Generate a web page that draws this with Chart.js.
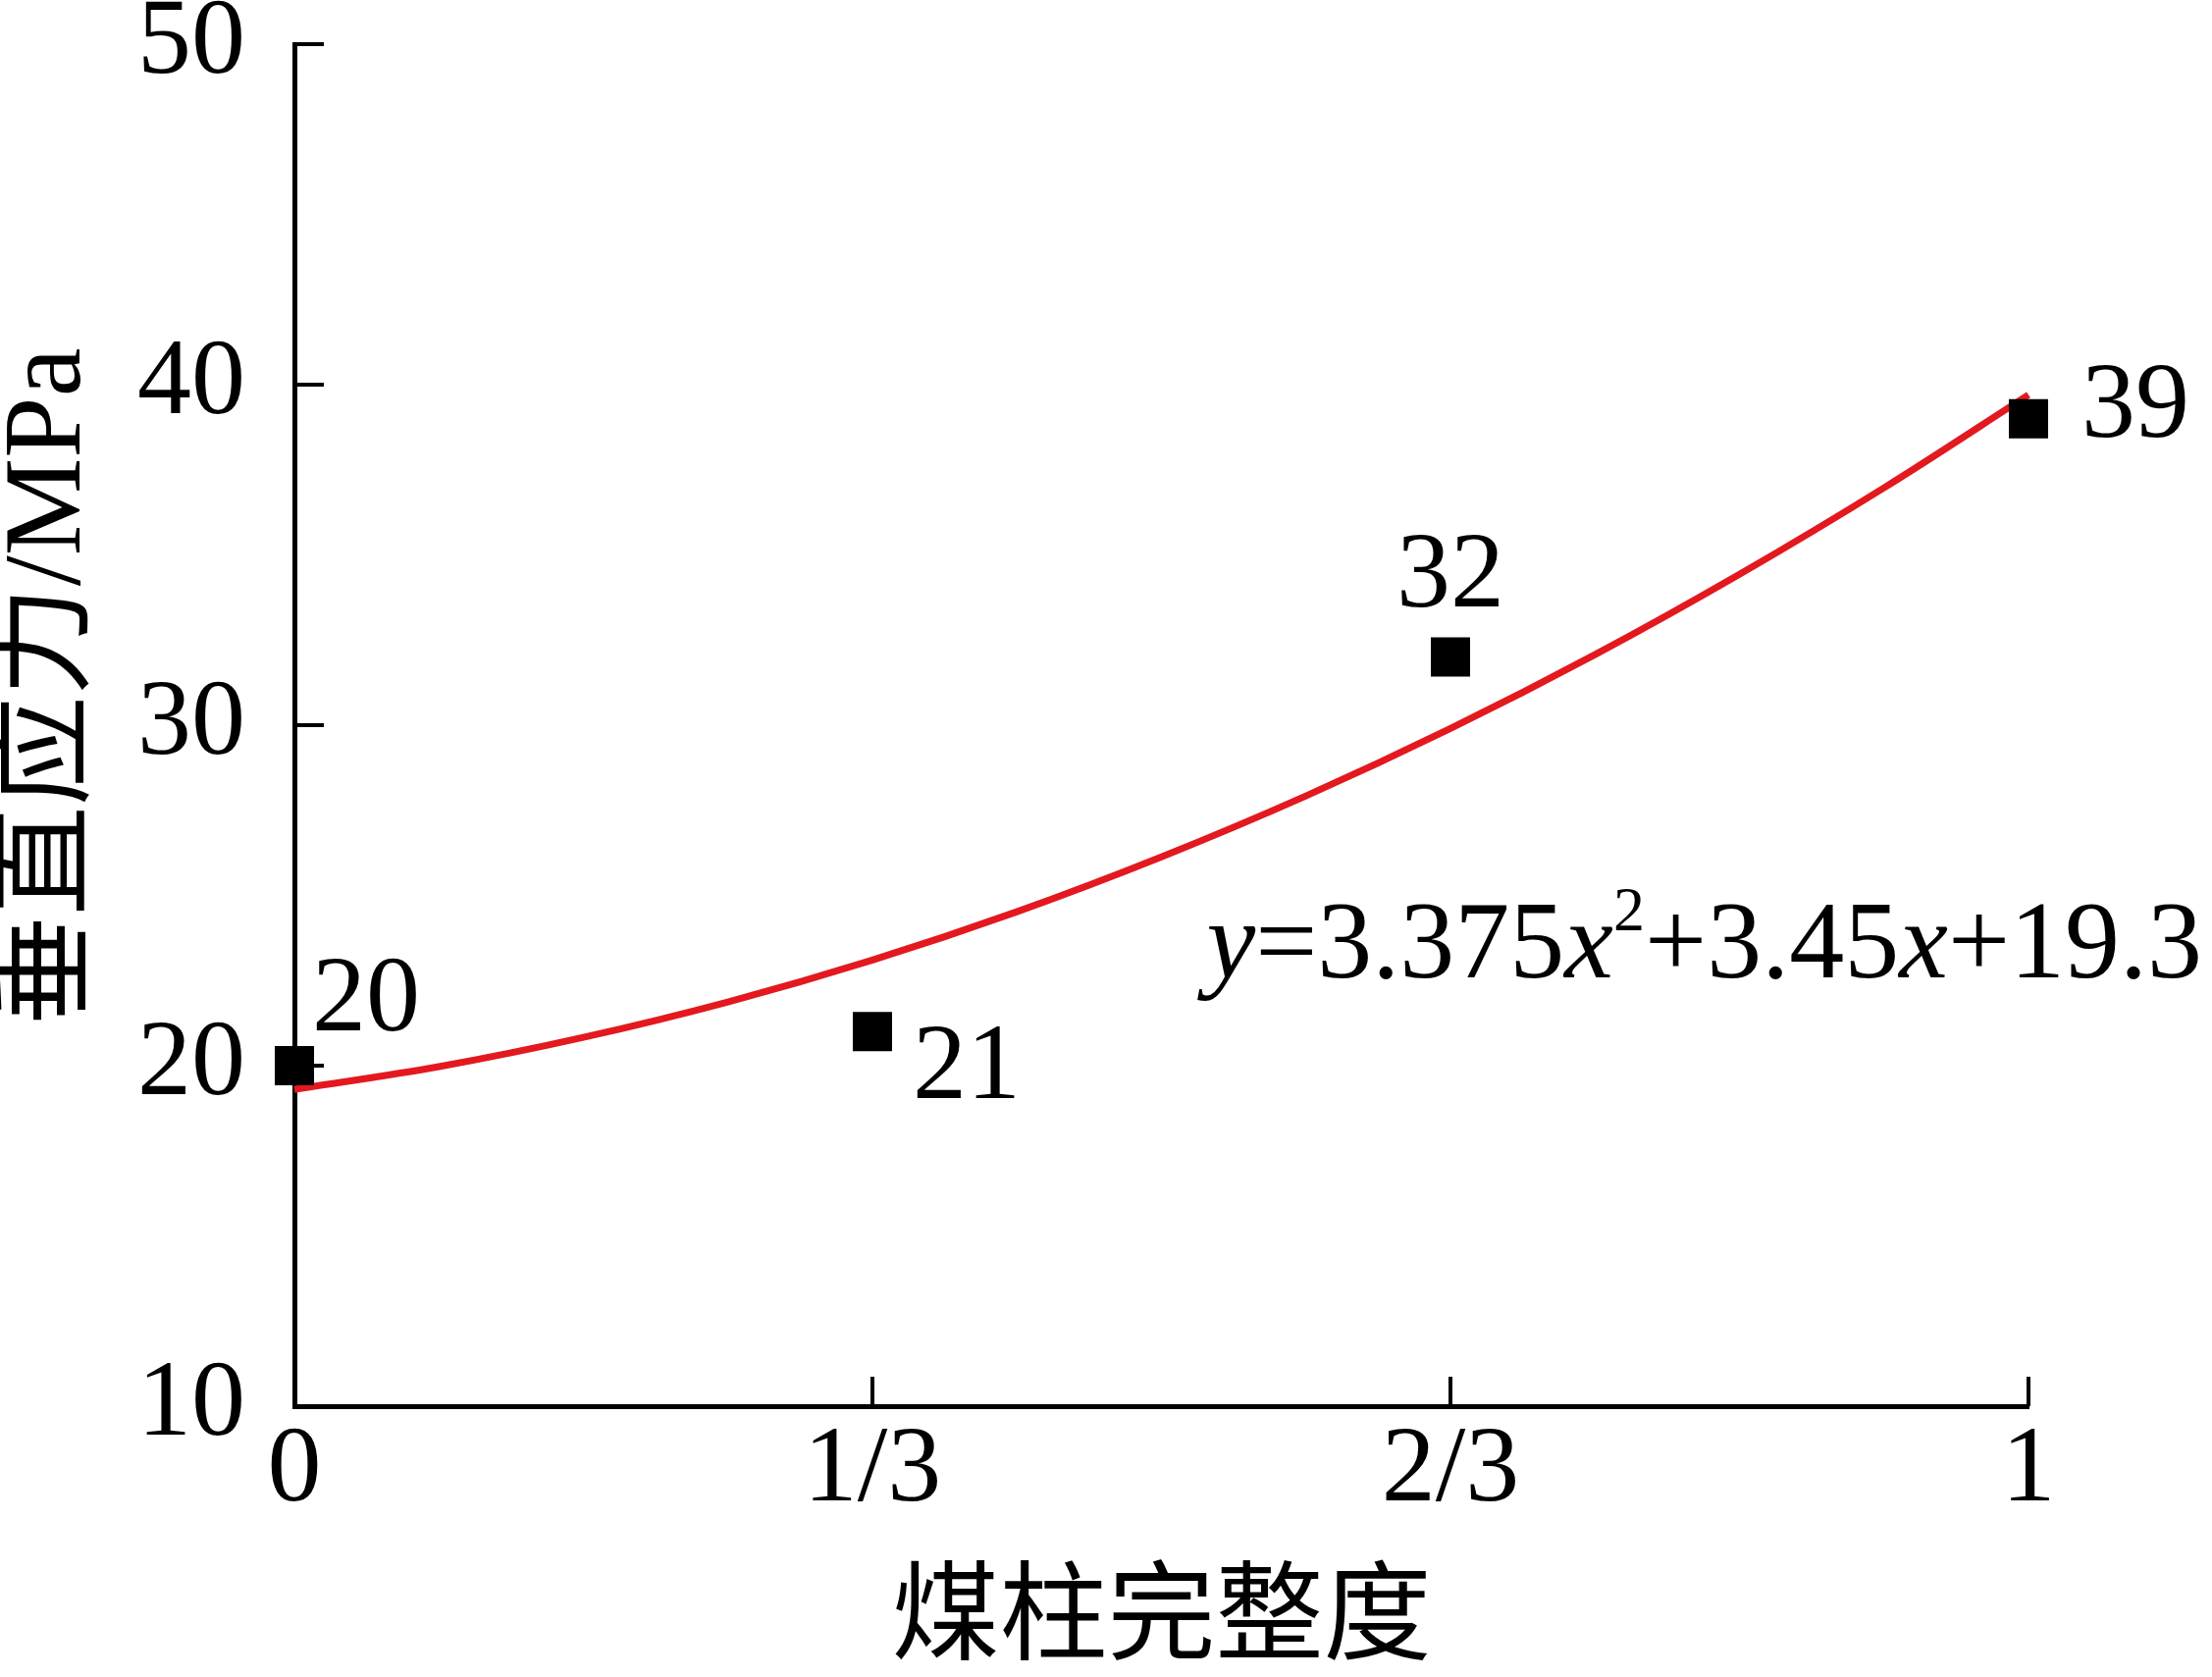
<!DOCTYPE html>
<html>
<head>
<meta charset="utf-8">
<script src="https://cdn.jsdelivr.net/npm/chart.js@4.4.0/dist/chart.umd.min.js"></script>
<style>
  html, body { margin: 0; padding: 0; background: #fff; }
  #wrap { width: 2254px; height: 1709px; position: relative; }
</style>
</head>
<body>
<div id="wrap"><canvas id="chart"></canvas></div>
<script>
// 数据
const xTickValues = [0, 1 / 3, 2 / 3, 1];
const xTickLabels = ['0', '1/3', '2/3', '1'];
const yTickValues = [10, 20, 30, 40, 50];
const integrity = [0, 1 / 3, 2 / 3, 1];
const stress = [20, 21, 32, 39];
// 拟合曲线
const fitX = [0, 1 / 12, 2 / 12, 3 / 12, 4 / 12, 5 / 12, 6 / 12, 7 / 12, 8 / 12, 9 / 12, 10 / 12, 11 / 12, 1];
const fitY = [19.3, 19.97, 20.83, 21.87, 23.1, 24.52, 26.13, 27.92, 29.9, 32.07, 34.43, 36.97, 39.7];

const SERIF = "'Liberation Serif', 'Times New Roman', serif";
const CJK = "'Liberation Serif', 'Noto Sans CJK SC', serif";

// 数据标签偏移
const labelOffsets = [
    [18, -36, 'left'],
    [41, 68, 'left'],
    [0, -52, 'center'],
    [54, 18, 'left']
];

const eqParts = [
    { t: 'y', it: true },
    { t: '=3.375' },
    { t: 'x', it: true },
    { t: '2', sup: true },
    { t: '+3.45' },
    { t: 'x', it: true },
    { t: '+19.3' }
];

const decorPlugin = {
    id: 'decor',
    beforeDatasetsDraw(chart) {
        const ctx = chart.ctx;
        const xs = chart.scales.x, ys = chart.scales.y;
        const area = chart.chartArea;
        ctx.save();
        ctx.strokeStyle = '#000';
        ctx.lineWidth = 4;
        ctx.beginPath();
        ys.ticks.forEach(t => {
            const py = ys.getPixelForValue(t.value);
            ctx.moveTo(area.left, py);
            ctx.lineTo(area.left + 30, py);
        });
        xs.ticks.forEach(t => {
            const px = xs.getPixelForValue(t.value);
            ctx.moveTo(px, area.bottom);
            ctx.lineTo(px, area.bottom - 30);
        });
        ctx.stroke();
        ctx.restore();
    },
    afterDatasetsDraw(chart) {
        const ctx = chart.ctx;
        const xs = chart.scales.x, ys = chart.scales.y;
        ctx.save();
        ctx.fillStyle = '#000';
        ctx.textBaseline = 'alphabetic';

        // 点标签
        ctx.font = '110px ' + SERIF;
        stress.forEach((v, i) => {
            const px = xs.getPixelForValue(integrity[i]);
            const py = ys.getPixelForValue(v);
            const o = labelOffsets[i];
            ctx.textAlign = o[2];
            ctx.fillText(String(v), px + o[0], py + o[1]);
        });

        // 拟合公式
        ctx.textAlign = 'left';
        let ex = xs.getPixelForValue(0.526);
        const ey = ys.getPixelForValue(22.6);
        eqParts.forEach(p => {
            if (p.sup) {
                ctx.font = '64px ' + SERIF;
                ctx.fillText(p.t, ex, ey - 48);
            } else {
                ctx.font = (p.it ? 'italic ' : '') + '112px ' + SERIF;
                ctx.fillText(p.t, ex, ey);
            }
            ex += ctx.measureText(p.t).width;
        });

        // 纵轴标题
        ctx.translate(52, 700);
        ctx.rotate(-Math.PI / 2);
        ctx.textAlign = 'center';
        ctx.textBaseline = 'middle';
        ctx.font = '112px ' + CJK;
        ctx.fillText('垂直应力/MPa', 0, 0);
        ctx.restore();
    }
};

new Chart(document.getElementById('chart'), {
    type: 'scatter',
    data: {
        datasets: [{
            label: '垂直应力',
            data: integrity.map((x, i) => ({ x: x, y: stress[i] })),
            pointStyle: 'rect',
            pointRadius: 28.3,
            pointBackgroundColor: '#000',
            pointBorderWidth: 0,
            clip: false,
            order: 0
        }, {
            type: 'line',
            label: '拟合',
            data: fitX.map((x, i) => ({ x: x, y: fitY[i] })),
            borderColor: '#e3191f',
            borderWidth: 7,
            pointRadius: 0,
            showLine: true,
            fill: false,
            tension: 0.33,
            clip: false,
            order: 1
        }]
    },
    options: {
        responsive: true,
        maintainAspectRatio: false,
        animation: false,
        events: [],
        layout: {
            autoPadding: false,
            padding: { top: 45, right: 187, left: 0, bottom: 0 }
        },
        plugins: {
            legend: { display: false },
            tooltip: { enabled: false }
        },
        scales: {
            x: {
                type: 'linear',
                min: 0,
                max: 1,
                afterBuildTicks: scale => {
                    scale.ticks = xTickValues.map(v => ({ value: v }));
                },
                afterFit: scale => { scale.height = 276; },
                grid: { display: false, drawTicks: false },
                border: { display: true, color: '#000', width: 5 },
                ticks: {
                    color: '#000',
                    padding: 12,
                    maxRotation: 0,
                    font: { family: SERIF, size: 110, lineHeight: 1 },
                    callback: (v, i) => xTickLabels[i]
                },
                title: {
                    display: true,
                    text: '煤柱完整度',
                    color: '#000',
                    padding: { top: 0, bottom: 0 },
                    font: { family: CJK, size: 110, lineHeight: 1 }
                }
            },
            y: {
                min: 10,
                max: 50,
                afterBuildTicks: scale => {
                    scale.ticks = yTickValues.map(v => ({ value: v }));
                },
                afterFit: scale => { scale.width = 300; },
                // 透明刻度线只用来留出标签间距
                grid: {
                    display: true,
                    drawOnChartArea: false,
                    drawTicks: true,
                    tickLength: 50,
                    tickColor: 'rgba(0,0,0,0)'
                },
                border: { display: true, color: '#000', width: 5 },
                ticks: {
                    color: '#000',
                    padding: 0,
                    font: { family: SERIF, size: 110, lineHeight: 0.2 }
                }
            }
        }
    },
    plugins: [decorPlugin]
});
</script>
</body>
</html>
